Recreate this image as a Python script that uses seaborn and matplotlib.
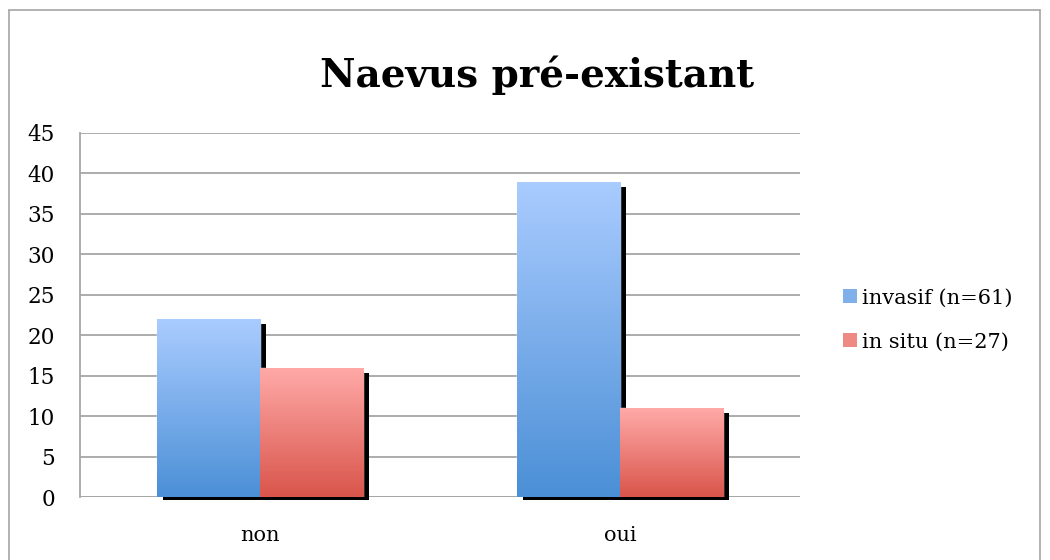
import numpy as np
import pandas as pd
import matplotlib
matplotlib.use('Agg')
import matplotlib.pyplot as plt
import matplotlib.transforms as mtransforms
from matplotlib.patches import Patch, Rectangle
from matplotlib.colors import LinearSegmentedColormap
from matplotlib.lines import Line2D
import seaborn as sns

categories = ['non', 'oui']
series = ['invasif (n=61)', 'in situ (n=27)']
invasif = [22, 39]
in_situ = [16, 11]
yticks = [0, 5, 10, 15, 20, 25, 30, 35, 40, 45]

top_colors = ['#aaccff', '#ffaaa8']
bottom_colors = ['#4b8fd6', '#d9554b']

df = pd.DataFrame({
    'cat': categories * 2,
    'serie': [series[0]] * 2 + [series[1]] * 2,
    'val': invasif + in_situ,
})

sns.set_theme(style='white')
plt.rcParams['font.family'] = ['DejaVu Serif']
plt.rcParams['text.color'] = 'black'

fig = plt.figure(figsize=(10.5, 5.6), dpi=100)
ax = fig.add_axes([80 / 1050, 63 / 560, 720 / 1050, 364 / 560])

sns.barplot(data=df, x='cat', y='val', hue='serie', order=categories,
            hue_order=series, palette=['#7fb0ea', '#ee8a83'], width=0.574,
            gap=0, saturation=1, legend=False, ax=ax)

ax.set_xlim(-0.5, 1.5)
ax.set_ylim(0, 45)
ax.set_yticks(yticks)
ax.yaxis.grid(True, color='#a6a6a6', lw=1.3, zorder=0)
ax.set_axisbelow(True)
for s in ['top', 'right', 'bottom']:
    ax.spines[s].set_visible(False)
ax.spines['left'].set_color('#a6a6a6')
ax.spines['left'].set_linewidth(1.3)
ax.axhline(0, color='#a6a6a6', lw=1.3, zorder=1)
ax.set_xlabel('')
ax.set_ylabel('')
ax.tick_params(axis='y', labelsize=15.5, pad=18, length=0, colors='black')
ax.tick_params(axis='x', labelsize=15, pad=21, length=0, colors='black')

# gradient fill + drop shadow for each bar
shadow_off = mtransforms.ScaledTranslation(6 / 100, -3 / 100, fig.dpi_scale_trans)
bars = list(ax.patches)
for i, p in enumerate(bars):
    k = i // len(categories)
    x, y = p.get_x(), p.get_y()
    w, h = p.get_width(), p.get_height()
    sh = Rectangle((x, y), w, h - 0.3, facecolor='black', edgecolor='none',
                   transform=ax.transData + shadow_off, zorder=2, clip_on=False)
    ax.add_patch(sh)
    cmap = LinearSegmentedColormap.from_list('g', [bottom_colors[k], top_colors[k]])
    grad = np.linspace(0, 1, 256).reshape(-1, 1)
    im = ax.imshow(grad, cmap=cmap, aspect='auto', origin='lower',
                   extent=[x, x + w, y, y + h], zorder=3)
    im.set_clip_path(p)
    p.set_facecolor('none')
    p.set_zorder(3)

ax.set_xlim(-0.5, 1.5)
ax.set_ylim(0, 45)

fig.suptitle('Naevus pré-existant', x=537 / 1050, y=1 - 75 / 560, va='center',
             fontsize=28, fontweight='bold', color='black')

handles = [Patch(facecolor='#7fb0ea', edgecolor='none'),
           Patch(facecolor='#ee8a83', edgecolor='none')]
fig.legend(handles, series, loc='center left', bbox_to_anchor=(843 / 1050, 1 - 320 / 560),
           frameon=False, fontsize=15, handlelength=0.65, handleheight=0.65,
           handletextpad=0.25, labelspacing=1.2, borderaxespad=0, borderpad=0)

# outer chart frame
fig.add_artist(Line2D([9 / 1050, 9 / 1050], [0, 1 - 10 / 560], color='#a6a6a6', lw=1.2))
fig.add_artist(Line2D([9 / 1050, 1040 / 1050], [1 - 10 / 560, 1 - 10 / 560], color='#a6a6a6', lw=1.2))
fig.add_artist(Line2D([1040 / 1050, 1040 / 1050], [0, 1 - 10 / 560], color='#a6a6a6', lw=1.2))

fig.savefig('out.png', dpi=100, facecolor='white')
